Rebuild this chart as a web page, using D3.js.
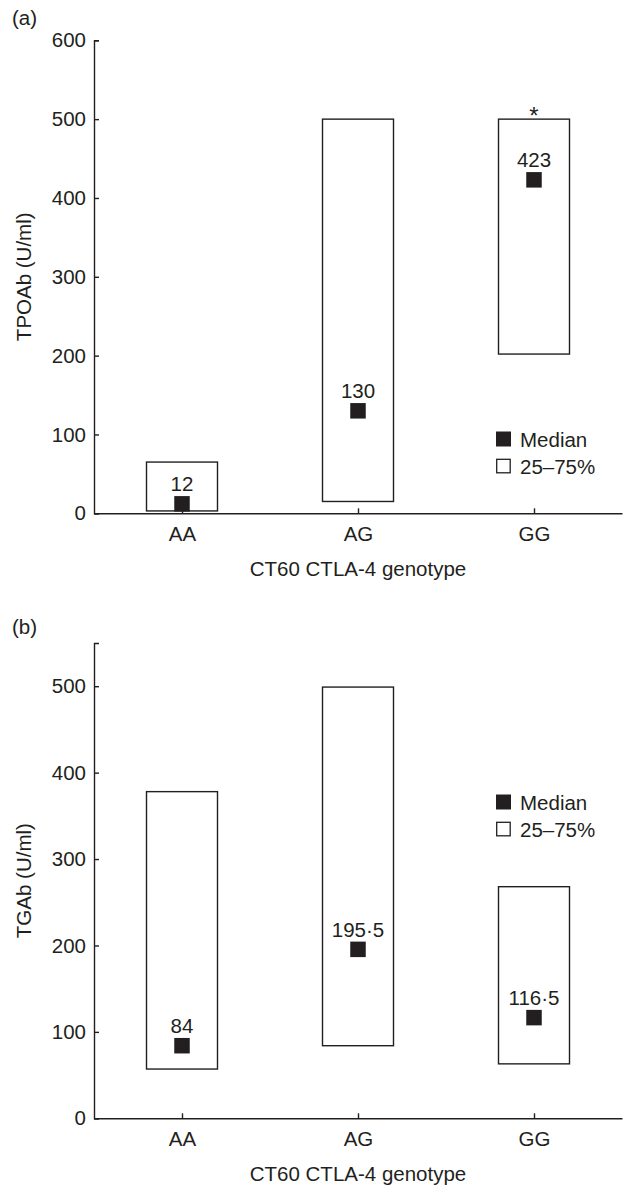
<!DOCTYPE html>
<html>
<head>
<meta charset="utf-8">
<script src="https://cdn.jsdelivr.net/npm/d3@7"></script>
<style>
  body { margin: 0; background: #fff; }
  svg text { font-family: "Liberation Sans", Arial, Helvetica, sans-serif; fill: #231f20; }
</style>
</head>
<body>
<div id="chart"></div>
<script>
// Data
const genotypes = ["AA", "AG", "GG"];

const tpoLow = [3, 15, 202];
const tpoHigh = [65, 500, 500];
const tpoMedian = [12, 130, 423];
const tpoLabels = ["12", "130", "423"];
const tpoTicks = [0, 100, 200, 300, 400, 500, 600];

const tgLow = [57, 84, 63];
const tgHigh = [378, 499, 268];
const tgMedian = [84, 195.5, 116.5];
const tgLabels = ["84", "195·5", "116·5"];
const tgTicks = [0, 100, 200, 300, 400, 500];

const ink = "#231f20";
const fs = "20.5px";
const width = 624, height = 1186;

const svg = d3.select("#chart")
    .append("svg")
    .attr("width", width)
    .attr("height", height);

function drawPanel(opts) {
    const { tag, tagY, top, bottom, yMax, ticks, low, high, median, labels, yTitle, star, legendY } = opts;

    const x = d3.scalePoint()
        .domain(genotypes)
        .range([94, 622])
        .padding(0.5);

    const y = d3.scaleLinear()
        .domain([0, yMax])
        .range([bottom, top]);

    const g = svg.append("g");

    // panel tag
    g.append("text")
        .attr("x", 12)
        .attr("y", tagY)
        .style("font-size", fs)
        .text(tag);

    // boxes (25-75%)
    const boxW = 71;
    g.selectAll("rect.box")
        .data(genotypes)
        .enter()
        .append("rect")
        .attr("class", "box")
        .attr("x", d => x(d) - boxW / 2)
        .attr("y", (d, i) => y(high[i]))
        .attr("width", boxW)
        .attr("height", (d, i) => y(low[i]) - y(high[i]))
        .attr("fill", "none")
        .attr("stroke", ink)
        .attr("stroke-width", 1.4);

    // median squares
    const sq = 15.5;
    g.selectAll("rect.med")
        .data(genotypes)
        .enter()
        .append("rect")
        .attr("class", "med")
        .attr("x", d => x(d) - sq / 2)
        .attr("y", (d, i) => y(median[i]) - sq / 2)
        .attr("width", sq)
        .attr("height", sq)
        .attr("fill", ink);

    g.selectAll("text.medlab")
        .data(genotypes)
        .enter()
        .append("text")
        .attr("class", "medlab")
        .attr("x", d => x(d))
        .attr("y", (d, i) => y(median[i]) - sq / 2 - 5)
        .attr("text-anchor", "middle")
        .style("font-size", fs)
        .text((d, i) => labels[i]);

    if (star) {
        g.append("text")
            .attr("x", x(star.genotype))
            .attr("y", y(star.value) + 5)
            .attr("text-anchor", "middle")
            .style("font-size", "24px")
            .text("*");
    }

    // axes
    const yAxis = d3.axisLeft(y)
        .tickValues(ticks)
        .tickSizeInner(-5)
        .tickSizeOuter(-5)
        .tickPadding(8);

    const yg = g.append("g")
        .attr("transform", "translate(94,0)")
        .call(yAxis);
    yg.selectAll("text").style("font-size", fs).attr("fill", ink);

    const xAxis = d3.axisBottom(x)
        .tickSizeInner(-5)
        .tickSizeOuter(0)
        .tickPadding(13);

    const xg = g.append("g")
        .attr("transform", `translate(0,${bottom})`)
        .call(xAxis);
    xg.selectAll("text").style("font-size", fs).attr("fill", ink);

    [yg, xg].forEach(a => {
        a.selectAll("path, line").attr("stroke", ink).attr("stroke-width", 1.4);
    });

    // axis titles
    g.append("text")
        .attr("transform", "rotate(-90)")
        .attr("x", -(top + bottom) / 2)
        .attr("y", 31)
        .attr("text-anchor", "middle")
        .style("font-size", fs)
        .text(yTitle);

    g.append("text")
        .attr("x", x("AG"))
        .attr("y", bottom + 63)
        .attr("text-anchor", "middle")
        .style("font-size", fs)
        .text("CT60 CTLA-4 genotype");

    // legend
    g.append("rect")
        .attr("x", 496)
        .attr("y", legendY - 7.5)
        .attr("width", 15)
        .attr("height", 15)
        .attr("fill", ink);
    g.append("text")
        .attr("x", 520)
        .attr("y", legendY + 7.5)
        .style("font-size", fs)
        .text("Median");

    g.append("rect")
        .attr("x", 496.7)
        .attr("y", legendY + 27 - 6.7)
        .attr("width", 13.5)
        .attr("height", 13.5)
        .attr("fill", "none")
        .attr("stroke", ink)
        .attr("stroke-width", 1.3);
    g.append("text")
        .attr("x", 520)
        .attr("y", legendY + 27 + 7.5)
        .style("font-size", fs)
        .text("25–75%");
}

drawPanel({
    tag: "(a)", tagY: 25, top: 40.3, bottom: 513.3, yMax: 600, ticks: tpoTicks,
    low: tpoLow, high: tpoHigh, median: tpoMedian, labels: tpoLabels,
    yTitle: "TPOAb (U/ml)", star: { genotype: "GG", value: 500 }, legendY: 439
});

drawPanel({
    tag: "(b)", tagY: 634, top: 643, bottom: 1118.3, yMax: 550, ticks: tgTicks,
    low: tgLow, high: tgHigh, median: tgMedian, labels: tgLabels,
    yTitle: "TGAb (U/ml)", star: null, legendY: 802
});
</script>
</body>
</html>
